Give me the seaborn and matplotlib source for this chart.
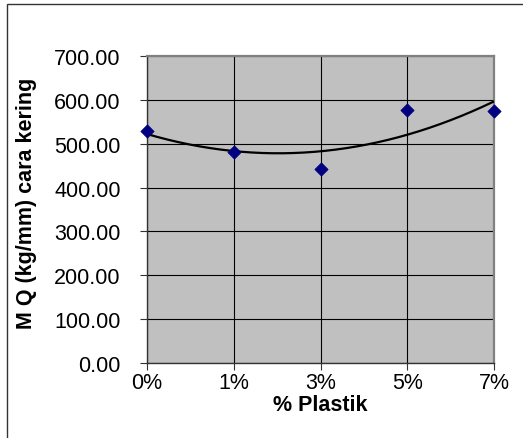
import numpy as np
import pandas as pd
import matplotlib
matplotlib.use("Agg")
import matplotlib.pyplot as plt
import seaborn as sns
from matplotlib.patches import Rectangle
from matplotlib.ticker import FormatStrFormatter

# Plastic content (categories) and dry-method Marshall Quotient
plastik = ["0%", "1%", "3%", "5%", "7%"]
mq_kering = [530.0, 481.0, 442.0, 577.0, 575.0]
y_ticks = [0, 100, 200, 300, 400, 500, 600, 700]

sns.set_theme(style="white")
plt.rcParams["font.family"] = ["Liberation Sans", "DejaVu Sans"]

W, H = 523, 439
fig = plt.figure(figsize=(W / 100, H / 100), dpi=100)
fig.patch.set_facecolor("white")

# plot area placement (pixels)
left, right, top, bottom = 147, 494, 57, 364
ax = fig.add_axes([left / W, (H - bottom) / H, (right - left) / W, (bottom - top) / H])
ax.set_facecolor("#C0C0C0")

pos = np.arange(len(plastik))
df = pd.DataFrame({"pos": pos, "mq": mq_kering})

# order-2 polynomial trendline over category positions
coef = np.polyfit(pos, mq_kering, 2)
xt = np.linspace(pos[0], pos[-1], 200)
trend = pd.DataFrame({"pos": xt, "mq": np.polyval(coef, xt)})

ax.set_axisbelow(True)
ax.grid(True, color="black", linewidth=0.8)
sns.lineplot(data=trend, x="pos", y="mq", ax=ax, color="black", linewidth=1.6, zorder=3)
sns.scatterplot(data=df, x="pos", y="mq", ax=ax, marker="D", s=46,
                color="#000080", edgecolor="#000080", linewidth=0.5, zorder=4, clip_on=False)

ax.set_xlim(pos[0], pos[-1])
ax.set_ylim(0, 700)
ax.set_xticks(pos)
ax.set_xticklabels(plastik)
ax.set_yticks(y_ticks)
ax.yaxis.set_major_formatter(FormatStrFormatter("%.2f"))

fs = 15.5
ax.tick_params(axis="y", direction="out", length=5, width=0.8, color="#333333",
               pad=14, labelsize=fs, labelcolor="black", left=True)
ax.tick_params(axis="x", direction="out", length=5, width=0.8, color="#333333",
               pad=1.5, labelsize=fs, labelcolor="black", bottom=True)

for side in ("left", "bottom"):
    ax.spines[side].set_color("#333333")
    ax.spines[side].set_linewidth(1.0)
for side in ("top", "right"):
    ax.spines[side].set_color("#808080")
    ax.spines[side].set_linewidth(1.6)

ax.set_xlabel("% Plastik", fontsize=fs, fontweight="bold", color="black", labelpad=1)
ax.set_ylabel("M Q (kg/mm) cara kering", fontsize=fs, fontweight="bold", color="black")
ax.yaxis.set_label_coords((37 - left) / (right - left), (bottom - 203) / (bottom - top))

# chart area border
fig.patches.append(Rectangle((7 / W, -0.05), 1.1, (H - 5) / H + 0.05, transform=fig.transFigure,
                             fill=False, edgecolor="#333333", linewidth=1.0))

fig.savefig("out.png", dpi=100, facecolor="white")
